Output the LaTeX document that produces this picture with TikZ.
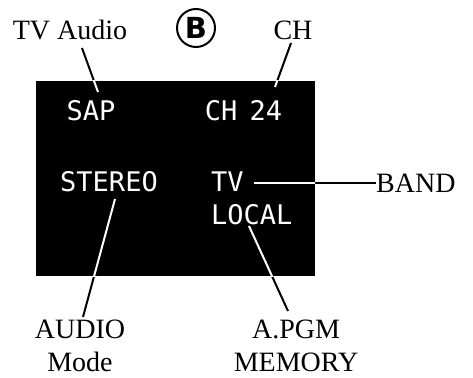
\documentclass[tikz,border=0pt]{standalone}
\usepackage{fontspec}
\setmainfont{Liberation Serif}
\newfontfamily\lcdfont{DejaVu Sans Mono}
\newfontfamily\badgefont{DejaVu Sans}
\newcommand{\callout}[2]{
    \draw[leader] (#1) -- (#2);
    \begin{scope}
        \clip (disp.south west) rectangle (disp.north east);
        \draw[leader, white] (#1) -- (#2);
    \end{scope}
}
\tikzset{x=1pt, y=-1pt,
    label text/.style={font=\fontsize{28}{33}\selectfont, inner sep=0pt, align=center},
    lcd/.style={font=\lcdfont\fontsize{27}{30}\selectfont, text=white, inner sep=0pt},
    leader/.style={line width=2pt}}

\begin{document}
\begin{tikzpicture}
                \useasboundingbox (0,0) rectangle (473,377);
                \node[fill=black, minimum width=279pt, minimum height=195pt, inner sep=0pt]
                    (disp) at (175.5,178.5) {};
                % display readout
                \node[lcd] (sap) at (91,111) {SAP};
                \node[lcd] (ch) at (243.5,111) {CH\hspace{0.45em}24};
                \node[lcd] (stereo) at (109,182) {STEREO};
                \node[lcd, anchor=west] (tv) at (211,182) {TV};
                \node[lcd, anchor=west] (local) at (211,215) {LOCAL};
                % labels
                \node[label text] (tvaudio) at (70,30) {TV Audio};
                \node[label text] (chlab) at (293,30) {CH};
                \node[label text, anchor=west] (band) at (376,183) {BAND};
                \node[label text] (audio) at (80,346) {AUDIO\\Mode};
                \node[label text] (apgm) at (296,346) {A.PGM\\MEMORY};
                \node[draw, circle, line width=2pt, minimum size=38pt, inner sep=0pt,
                    font=\badgefont\bfseries\fontsize{29}{29}\selectfont] (badge) at (196,28) {B};
                % connector ends
                \coordinate (tvaudio-a) at (82,48);
                \coordinate (tvaudio-b) at (98,92);
                \coordinate (chlab-a) at (291,43);
                \coordinate (chlab-b) at (275,87);
                \coordinate (stereo-a) at (115,199);
                \coordinate (stereo-b) at (83,317);
                \coordinate (local-a) at (249,226);
                \coordinate (local-b) at (288,311);
                \coordinate (tv-a) at (254,183);
                \callout{tvaudio-a}{tvaudio-b}
                \callout{chlab-a}{chlab-b}
                \callout{stereo-a}{stereo-b}
                \callout{local-a}{local-b}
                \callout{tv-a}{band.west}
            \end{tikzpicture}
\end{document}
